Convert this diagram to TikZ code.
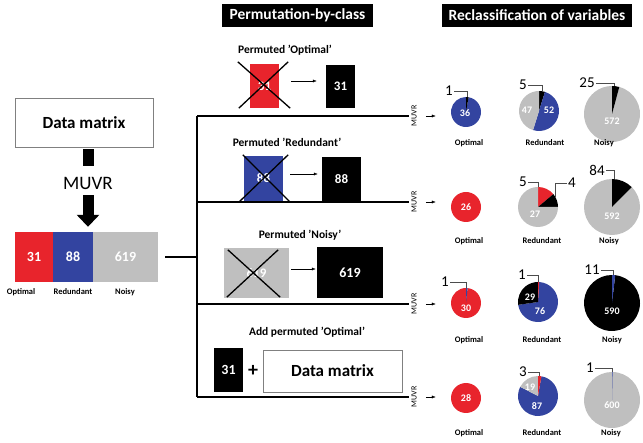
\documentclass[tikz,border=0pt]{standalone}
\usepackage{fontspec}
\setmainfont{Carlito}
\usetikzlibrary{arrows.meta}

\definecolor{optred}{HTML}{E8242C}
\definecolor{redblue}{HTML}{3344A0}
\definecolor{noigray}{HTML}{BFBFBF}

% pie slice: centre, radius, from, to (degrees clockwise from top), colour
\newcommand{\pieslice}[5]{%
  \fill[#5] (#1) -- ++({90-#3}:#2) arc[start angle={90-#3}, end angle={90-#4}, radius=#2] -- cycle;}

\begin{document}
\begin{tikzpicture}[x=1pt, y=1pt, >={Latex[length=4pt]},
    box/.style={draw=gray, line width=0.8pt, inner sep=0, font=\bfseries\fontsize{17}{17}\selectfont},
    cell/.style={inner sep=0, text=white, font=\bfseries\fontsize{13}{13}\selectfont},
    head/.style={fill=black, text=white, inner sep=0, minimum height=23, font=\bfseries\fontsize{15.5}{15.5}\selectfont},
    title/.style={font=\bfseries\fontsize{11.5}{11.5}\selectfont},
    cls/.style={font=\bfseries\fontsize{8.5}{8.5}\selectfont},
    num/.style={text=white, inner sep=0, font=\bfseries\fontsize{10}{10}\selectfont},
    cnt/.style={inner sep=1, font=\fontsize{15}{15}\selectfont},
    leader/.style={draw=black!70, line width=0.6pt},
    cross/.style={line width=1.3pt},
    tree/.style={line width=1.3pt},
    muvrlab/.style={rotate=90, inner sep=1, font=\fontsize{8}{8}\selectfont},
    pie/.style={circle, inner sep=0, minimum size=2*#1}]

    \useasboundingbox (0,0) rectangle (643,-443);

    % input:
    \node(dm)[box, minimum width=138, minimum height=49] at (84,-122.5){Data matrix};
    \node(mv)[inner sep=0, minimum height=24, font=\fontsize{19}{19}\selectfont] at (88,-183){MUVR};
    \draw[line width=11pt, shorten <=2pt, shorten >=5pt] (mv.north |- dm.south) -- (mv.north);
    \node(bopt)[cell, fill=optred, minimum width=38, minimum height=50, font=\bfseries\fontsize{14}{14}\selectfont] at (34,-257){31};
    \node(bred)[cell, fill=redblue, minimum width=40, minimum height=50, font=\bfseries\fontsize{14}{14}\selectfont] at (73,-257){88};
    \node(bnoi)[cell, fill=noigray, minimum width=65, minimum height=50, font=\bfseries\fontsize{14}{14}\selectfont] at (125.5,-257){619};
    \draw[line width=11pt, -{Triangle[width=22pt, length=12pt]}, shorten >=5pt] (mv.south) -- (mv.south |- bred.north);
    \node(lopt)[cls] at (21,-292){Optimal};
    \node(lred)[cls] at (73,-292){Redundant};
    \node(lnoi)[cls] at (125,-292){Noisy};

    % tree:
    \coordinate(split) at (197,-257);
    \coordinate(k1) at (197,-116);
    \coordinate(k2) at (197,-202);
    \coordinate(k3) at (197,-304);
    \coordinate(k4) at (197,-397);
    \draw[tree, shorten <=7pt] (bnoi.east) -- (split);
    \draw[tree] (k1) -- (k4);
    \node(m1)[muvrlab] at (414,-116){MUVR};
    \node(m2)[muvrlab] at (414,-202){MUVR};
    \node(m3)[muvrlab] at (414,-304){MUVR};
    \node(m4)[muvrlab] at (414,-397){MUVR};
    \draw[tree, shorten >=1pt] (k1) -- (m1.north);
    \draw[tree, shorten >=1pt] (k2) -- (m2.north);
    \draw[tree, shorten >=1pt] (k3) -- (m3.north);
    \draw[tree, shorten >=1pt] (k4) -- (m4.north);
    \draw[->, shorten <=8pt] (m1.south) -- ++(18,0);
    \draw[->, shorten <=8pt] (m2.south) -- ++(18,0);
    \draw[->, shorten <=8pt] (m3.south) -- ++(18,0);
    \draw[->, shorten <=8pt] (m4.south) -- ++(18,0);

    % headers:
    \node(hp)[head, minimum width=151] at (297.5,-15.5){Permutation-by-class};
    \node(hr)[head, minimum width=190] at (537,-15.5){Reclassification of variables};

    % permuted Optimal:
    \node(sopt)[title] at (285,-50){Permuted ’Optimal’};
    \node(xo)[cell, fill=optred, minimum width=29, minimum height=44] at (264.5,-86){31};
    \draw[cross] ([shift={(-12,2)}]xo.north west) -- ([shift={(11,0)}]xo.south east);
    \draw[cross] ([shift={(9,2)}]xo.north east) -- ([shift={(-11,0)}]xo.south west);
    \node(ko)[cell, fill=black, minimum width=29, minimum height=43] at (340.5,-86.5){31};
    \draw[->, shorten <=12pt, shorten >=9pt] ([yshift=5]xo.east) -- ([yshift=5]xo.east -| ko.west);

    % permuted Redundant:
    \node(sred)[title] at (287,-142){Permuted ’Redundant’};
    \node(xr)[cell, fill=redblue, minimum width=39, minimum height=45] at (263.5,-178.5){88};
    \draw[cross] ([shift={(-1,1)}]xr.north west) -- ([shift={(7,-1)}]xr.south east);
    \draw[cross] ([shift={(5,1)}]xr.north east) -- ([shift={(-5,-1)}]xr.south west);
    \node(kr)[cell, fill=black, minimum width=39, minimum height=44] at (341.5,-179){88};
    \draw[->, shorten <=7pt, shorten >=4pt] ([yshift=4.5]xr.east) -- ([yshift=4.5]xr.east -| kr.west);

    % permuted Noisy:
    \node(snoi)[title] at (300,-235){Permuted ’Noisy’};
    \node(xn)[cell, fill=noigray, minimum width=65, minimum height=50] at (256.5,-273){619};
    \draw[cross] ([shift={(4,-2)}]xn.north west) -- ([shift={(-9,1)}]xn.south east);
    \draw[cross] ([shift={(-11,-2)}]xn.north east) -- ([shift={(3,1)}]xn.south west);
    \node(kn)[cell, fill=black, minimum width=66, minimum height=51, font=\bfseries\fontsize{14}{14}\selectfont] at (350,-272.5){619};
    \draw[->, shorten <=2pt, shorten >=1pt] ([yshift=4]xn.east) -- ([yshift=4]xn.east -| kn.west);

    % add permuted Optimal:
    \node(sadd)[title] at (307,-332){Add permuted ’Optimal’};
    \node(ka)[cell, fill=black, minimum width=29, minimum height=44, font=\bfseries\fontsize{14}{14}\selectfont] at (228.5,-370){31};
    \node(plus)[font=\bfseries\fontsize{20}{20}\selectfont, inner sep=0] at (253,-371){+};
    \node(dm2)[box, minimum width=139, minimum height=42] at (332.5,-371){Data matrix};

    % row 1:
    \node(o1)[pie=15] at (466,-112){};
    \pieslice{o1.center}{15}{9.7}{360}{redblue}
    \pieslice{o1.center}{15}{0}{9.7}{black}
    \node(v11)[num] at (465,-113){36};
    \node(r1)[pie=20] at (539,-111){};
    \pieslice{r1.center}{20}{0}{17.3}{black}
    \pieslice{r1.center}{20}{17.3}{197.3}{redblue}
    \pieslice{r1.center}{20}{197.3}{360}{noigray}
    \node(v12)[num] at (527,-110){47};
    \node(v13)[num] at (549,-110){52};
    \node(n1)[pie=28] at (612,-114){};
    \pieslice{n1.center}{28}{15.1}{360}{noigray}
    \pieslice{n1.center}{28}{0}{15.1}{black}
    \node(v14)[num] at (612,-121){572};
    \node(c11)[cnt] at (449,-91){1};
    \node(c12)[cnt] at (523,-85){5};
    \node(c13)[cnt] at (587,-83){25};
    \draw[leader] (c11.east) -| (o1.85);
    \draw[leader] (c12.east) -| (r1.82);
    \draw[leader] (c13.east) -| (n1.85);
    \node(l11)[cls] at (469,-143){Optimal};
    \node(l12)[cls] at (545,-143){Redundant};
    \node(l13)[cls] at (604,-143){Noisy};

    % row 2:
    \node(o2)[pie=15, fill=optred] at (466,-207){};
    \node(v21)[num] at (466,-207){26};
    \node(r2)[pie=20] at (538,-207){};
    \pieslice{r2.center}{20}{0}{50}{optred}
    \pieslice{r2.center}{20}{50}{90}{black}
    \pieslice{r2.center}{20}{90}{360}{noigray}
    \node(v22)[num] at (535,-214){27};
    \node(n2)[pie=28] at (612,-207){};
    \pieslice{n2.center}{28}{44.7}{360}{noigray}
    \pieslice{n2.center}{28}{0}{44.7}{black}
    \node(v23)[num] at (612,-216){592};
    \node(c21)[cnt] at (523,-182){5};
    \node(c22)[cnt] at (572,-183){4};
    \node(c23)[cnt] at (597,-170){84};
    \draw[leader] (c21.east) -| (r2.88);
    \draw[leader] (c22.west) -| (r2.30);
    \draw[leader] (c23.east) -| (n2.85);
    \node(l21)[cls] at (469,-241){Optimal};
    \node(l22)[cls] at (542,-241){Redundant};
    \node(l23)[cls] at (609,-241){Noisy};

    % row 3:
    \node(o3)[pie=15] at (466,-303){};
    \pieslice{o3.center}{15}{6}{360}{optred}
    \pieslice{o3.center}{15}{0}{6}{redblue}
    \node(v31)[num] at (466,-308){30};
    \node(r3)[pie=20] at (538,-302){};
    \pieslice{r3.center}{20}{3.4}{261.9}{redblue}
    \pieslice{r3.center}{20}{261.9}{360}{black}
    \pieslice{r3.center}{20}{0}{3.4}{optred}
    \node(v32)[num] at (530,-297){29};
    \node(v33)[num] at (540,-311){76};
    \node(n3)[pie=28] at (612,-303){};
    \pieslice{n3.center}{28}{6.6}{360}{black}
    \pieslice{n3.center}{28}{0}{6.6}{redblue}
    \node(v34)[num] at (612,-311){590};
    \node(c31)[cnt] at (445,-282){1};
    \node(c32)[cnt] at (522,-275){1};
    \node(c33)[cnt] at (592,-270){11};
    \draw[leader] (c31.east) -| (o3.87);
    \draw[leader] (c32.east) -| (r3.88);
    \draw[leader] (c33.east) -| (n3.87);
    \node(l31)[cls] at (469,-340){Optimal};
    \node(l32)[cls] at (542,-340){Redundant};
    \node(l33)[cls] at (612,-340){Noisy};

    % row 4:
    \node(o4)[pie=15, fill=optred] at (466,-398){};
    \node(v41)[num] at (466,-398){28};
    \node(r4)[pie=20] at (538,-396){};
    \pieslice{r4.center}{20}{9.9}{297.2}{redblue}
    \pieslice{r4.center}{20}{297.2}{360}{noigray}
    \pieslice{r4.center}{20}{0}{9.9}{optred}
    \node(v42)[num] at (530,-387){19};
    \node(v43)[num] at (537,-406){87};
    \node(n4)[pie=28] at (612,-400){};
    \pieslice{n4.center}{28}{1.2}{360}{noigray}
    \pieslice{n4.center}{28}{0}{1.2}{redblue}
    \node(v44)[num] at (612,-405){600};
    \node(c41)[cnt] at (523,-372){3};
    \node(c42)[cnt] at (590,-368){1};
    \draw[leader] (c41.east) -| (r4.86);
    \draw[leader] (c42.east) -| (n4.89);
    \node(l41)[cls] at (469,-433){Optimal};
    \node(l42)[cls] at (542,-433){Redundant};
    \node(l43)[cls] at (611,-433){Noisy};

\end{tikzpicture}
\end{document}
